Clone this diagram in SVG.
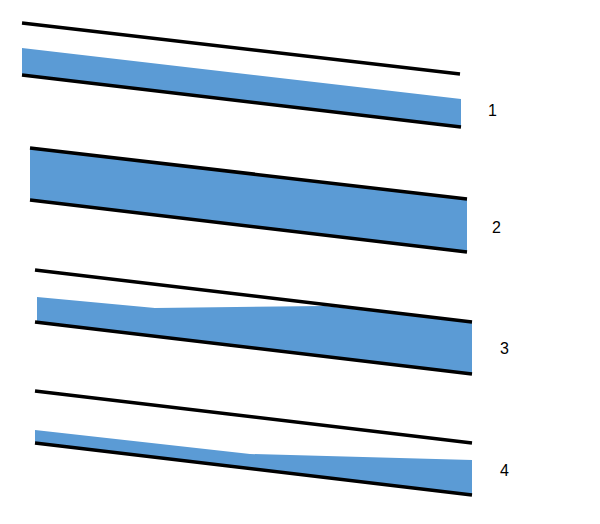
<svg xmlns="http://www.w3.org/2000/svg" width="600" height="524" viewBox="0 0 600 524">
<style>
.fill{fill:#5b9bd5;stroke:none}
.ln{stroke:#000;stroke-width:3.5;fill:none}
.lbl{font-family:"Liberation Sans",Arial,sans-serif;font-size:16px;fill:#000}
</style>
<rect width="600" height="524" fill="#fff"/>
<g id="fig1">
<polygon class="fill" points="22,48 461,99 461,127 22,75"/>
<line class="ln" x1="22" y1="23" x2="460" y2="74"/>
<line class="ln" x1="22" y1="75" x2="461" y2="127"/>
<text class="lbl" x="488" y="116">1</text>
</g>
<g id="fig2">
<polygon class="fill" points="30,148 467,199 467,252 30,200"/>
<line class="ln" x1="30" y1="148" x2="467" y2="199"/>
<line class="ln" x1="30" y1="200" x2="467" y2="252"/>
<text class="lbl" x="492" y="233">2</text>
</g>
<g id="fig3">
<polygon class="fill" points="37,297 155,308 325,306 472,322 472,374 37,322"/>
<line class="ln" x1="35" y1="270" x2="472" y2="322"/>
<line class="ln" x1="35" y1="322" x2="472" y2="374"/>
<text class="lbl" x="500" y="354">3</text>
</g>
<g id="fig4">
<polygon class="fill" points="35,430 250,454 472,460 472,495 35,443"/>
<line class="ln" x1="35" y1="391" x2="472" y2="443"/>
<line class="ln" x1="35" y1="443" x2="472" y2="495"/>
<text class="lbl" x="500" y="476">4</text>
</g>
</svg>
